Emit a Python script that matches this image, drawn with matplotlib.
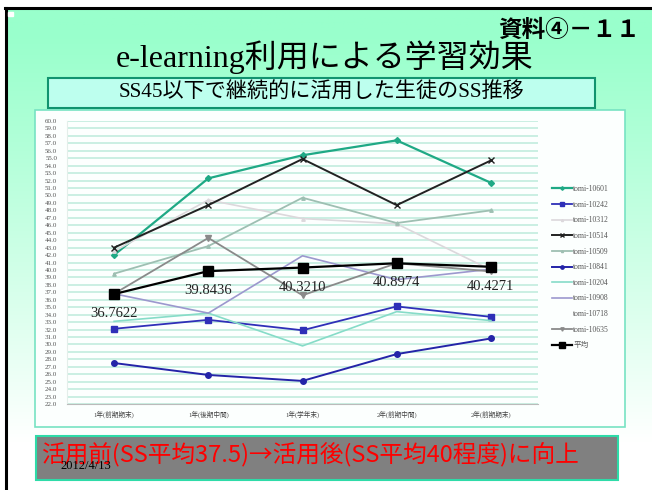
import numpy as np
import matplotlib.pyplot as plt
from matplotlib.patches import Rectangle

JP = ['Noto Sans CJK JP', 'DejaVu Sans']
SERIF_JP = ['Liberation Serif', 'Noto Sans CJK JP']

# data
periods = ['1年(前期期末)', '1年(後期中間)', '1年(学年末)', '2年(前期中間)', '2年(前期期末)']
s10601 = [42.0, 52.3, 55.4, 57.4, 51.7]
s10242 = [32.1, 33.3, 31.9, 35.1, 33.7]
s10312 = [42.5, 49.4, 46.9, 46.2, 40.0]
s10514 = [43.0, 48.7, 54.9, 48.7, 54.7]
s10509 = [39.5, 43.2, 49.7, 46.3, 48.0]
s10841 = [27.5, 25.9, 25.1, 28.7, 30.8]
s10204 = [33.1, 34.2, 29.8, 34.4, 33.2]
s10908 = [36.8, 34.2, 41.9, 38.7, 40.1]
s10718 = []
s10635 = [36.8, 44.3, 36.6, 40.9, 39.8]
mean = [36.7622, 39.8436, 40.3210, 40.8974, 40.4271]
y_ticks = np.arange(22, 61, 1.0)

W, H = 652, 490
fig = plt.figure(figsize=(W / 100, H / 100), dpi=100)

# slide background (pixel coordinates)
bg = fig.add_axes([0, 0, 1, 1])
bg.set_xlim(0, W)
bg.set_ylim(H, 0)
bg.axis('off')
grad = np.linspace(0, 1, 256)[:, None]
top = np.array([0.60, 1.0, 0.80])
bot = np.array([1.0, 1.0, 1.0])
t = np.clip((grad - 0.05) / 0.85, 0, 1) ** 1.1
img = top * (1 - t)[..., None] + bot * t[..., None]
img = np.repeat(img, 2, axis=1)
bg.imshow(img, extent=(7, W, H, 9), aspect='auto', zorder=0)
bg.plot([5, W], [8.5, 8.5], color='black', lw=2.2, zorder=3)
bg.plot([6, 6], [8, H], color='black', lw=2.2, zorder=3)
bg.add_patch(Rectangle((8, 12), 5, 4, color='white', zorder=3))

bg.text(640, 30, '資料④－１１', ha='right', va='center', fontsize=17,
        fontweight='bold', family=JP)
bg.text(325, 57, 'e-learning利用による学習効果', ha='center', va='center',
        fontsize=23, family=SERIF_JP)
bg.add_patch(Rectangle((48, 78), 547, 30, facecolor='#BDFFEE',
                       edgecolor='#11936F', lw=1.5, zorder=2))
bg.text(322, 93, 'SS45以下で継続的に活用した生徒のSS推移', ha='center', va='center',
        fontsize=15.2, family=SERIF_JP)

bg.add_patch(Rectangle((35, 110), 590, 317, facecolor='#FCFFFE',
                       edgecolor='#77E3C3', lw=1.2, zorder=2))

bg.add_patch(Rectangle((36, 436), 582, 44, facecolor='#808080',
                       edgecolor='#2EDBA8', lw=1.5, zorder=2))
bg.text(42, 455, '活用前(SS平均37.5)→活用後(SS平均40程度)に向上', ha='left',
        va='center', fontsize=17, color='#FF0000', family=JP, zorder=4)
bg.text(60, 466, '2012/4/13', ha='left', va='center', fontsize=9,
        family=['Liberation Serif'], color='black', zorder=5)

# chart
ax = fig.add_axes([67 / W, 1 - 404 / H, 471 / W, 283 / H])
ax.set_facecolor('none')
x = np.arange(len(periods))

series = [
    ('tomi-10601', s10601, dict(color='#1FA985', lw=1.6, marker='D', ms=3)),
    ('tomi-10242', s10242, dict(color='#2F2FB8', lw=1.3, marker='s', ms=4)),
    ('tomi-10312', s10312, dict(color='#DCD8DC', lw=1.2, marker='^', ms=2.5)),
    ('tomi-10514', s10514, dict(color='#222222', lw=1.4, marker='x', ms=5)),
    ('tomi-10509', s10509, dict(color='#9EBFB2', lw=1.3, marker='^', ms=2.5)),
    ('tomi-10841', s10841, dict(color='#2424A8', lw=1.4, marker='o', ms=4)),
    ('tomi-10204', s10204, dict(color='#86DCC8', lw=1.2)),
    ('tomi-10908', s10908, dict(color='#9C98CE', lw=1.2)),
    ('tomi-10718', s10718, dict(color='none', lw=1.2)),
    ('tomi-10635', s10635, dict(color='#8A8A8A', lw=1.3, marker='v', ms=4)),
    ('平均', mean, dict(color='black', lw=1.6, marker='s', ms=7.5)),
]
for name, vals, style in series:
    ax.plot(x[:len(vals)], vals, label=name, **style, zorder=3)

for xi, v in zip(x, mean):
    ax.annotate(f'{v:.4f}', (xi, v), xytext=(0, -14), textcoords='offset points',
                ha='center', va='center', fontsize=10.5, family='Liberation Serif',
                color='#222222', zorder=4)

ax.set_xlim(-0.5, len(periods) - 0.5)
ax.set_ylim(22, 60)
ax.set_yticks(y_ticks)
ax.set_yticklabels([f'{v:.1f}' for v in y_ticks], fontsize=5,
                   family='Liberation Serif', color='#555555')
ax.set_xticks(x)
ax.set_xticklabels(periods, fontsize=4.8, family=SERIF_JP, color='#444444')
ax.tick_params(axis='both', length=0)
ax.tick_params(axis='y', pad=7)
ax.tick_params(axis='x', pad=5)
ax.grid(axis='y', color='#BDEBDC', lw=1.1, zorder=1)
for side in ['top', 'right']:
    ax.spines[side].set_visible(False)
ax.spines['left'].set_color('#E4EEEA')
ax.spines['bottom'].set_color('#BBBBBB')

ax.legend(loc='upper left', bbox_to_anchor=(552 / W, 1 - 185 / H),
          bbox_transform=fig.transFigure, frameon=False, markerscale=0.6,
          prop={'family': SERIF_JP, 'size': 5.5}, handlelength=2.6,
          handletextpad=0.2, labelspacing=1.0, borderpad=0, borderaxespad=0)
for txt in ax.get_legend().get_texts():
    txt.set_color('#555555')

fig.savefig('out.png', dpi=100)
